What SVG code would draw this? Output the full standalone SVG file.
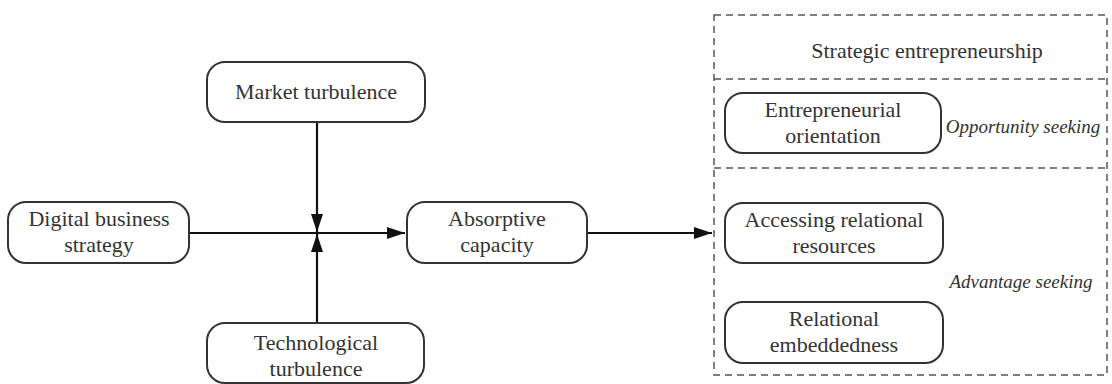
<svg xmlns="http://www.w3.org/2000/svg" width="1112" height="384" viewBox="0 0 1112 384">
<style>
.n{fill:#fff;stroke:#333;stroke-width:2}
.t{font-family:"Liberation Serif","Times New Roman","DejaVu Serif",serif;font-size:22px;fill:#333;text-anchor:middle}
.i{font-family:"Liberation Serif","Times New Roman","DejaVu Serif",serif;font-size:19px;font-style:italic;fill:#333;text-anchor:middle}
.d{fill:none;stroke:#555;stroke-width:1.5;stroke-dasharray:7,5}
.c{stroke:#111;stroke-width:2.2;fill:none}
</style>
<defs>
<marker id="b" viewBox="0 0 18 12" refX="18" refY="6" markerWidth="18" markerHeight="12" markerUnits="userSpaceOnUse" orient="auto"><path d="M0,0L18,6L0,12z" fill="#111"/></marker>
</defs>
<rect width="1112" height="384" fill="#fff"/>
<g id="se-frame">
<rect class="d" x="714" y="15" width="393" height="360"/>
<line class="d" x1="714" y1="79" x2="1107" y2="79"/>
<line class="d" x1="714" y1="168" x2="1107" y2="168"/>
<text class="t" x="927" y="58">Strategic entrepreneurship</text>
<text class="i" x="1023" y="133">Opportunity seeking</text>
<text class="i" x="1021" y="288">Advantage seeking</text>
</g>
<g id="connectors">
<line class="c" x1="189" y1="233" x2="405" y2="233" marker-end="url(#b)"/>
<line class="c" x1="317" y1="122" x2="317" y2="232" marker-end="url(#b)"/>
<line class="c" x1="317" y1="323" x2="317" y2="234" marker-end="url(#b)"/>
<line class="c" x1="587" y1="233" x2="712" y2="233" marker-end="url(#b)"/>
</g>
<g id="digital"><rect class="n" x="8" y="202" width="181" height="61" rx="18"/><text class="t" x="99" y="226">Digital business</text><text class="t" x="99" y="252">strategy</text></g>
<g id="market"><rect class="n" x="207" y="62" width="218" height="60" rx="18"/><text class="t" x="316" y="99">Market turbulence</text></g>
<g id="tech"><rect class="n" x="207" y="323" width="217" height="60" rx="18"/><text class="t" x="316" y="350">Technological</text><text class="t" x="316" y="376">turbulence</text></g>
<g id="absorptive"><rect class="n" x="407" y="202" width="180" height="61" rx="18"/><text class="t" x="497" y="226">Absorptive</text><text class="t" x="497" y="252">capacity</text></g>
<g id="eo"><rect class="n" x="725" y="93" width="216" height="60" rx="18"/><text class="t" x="833" y="117">Entrepreneurial</text><text class="t" x="833" y="143">orientation</text></g>
<g id="arr"><rect class="n" x="725" y="203" width="218" height="60" rx="18"/><text class="t" x="834" y="227">Accessing relational</text><text class="t" x="834" y="253">resources</text></g>
<g id="re"><rect class="n" x="725" y="302" width="218" height="61" rx="18"/><text class="t" x="834" y="326">Relational</text><text class="t" x="834" y="352">embeddedness</text></g>
</svg>
